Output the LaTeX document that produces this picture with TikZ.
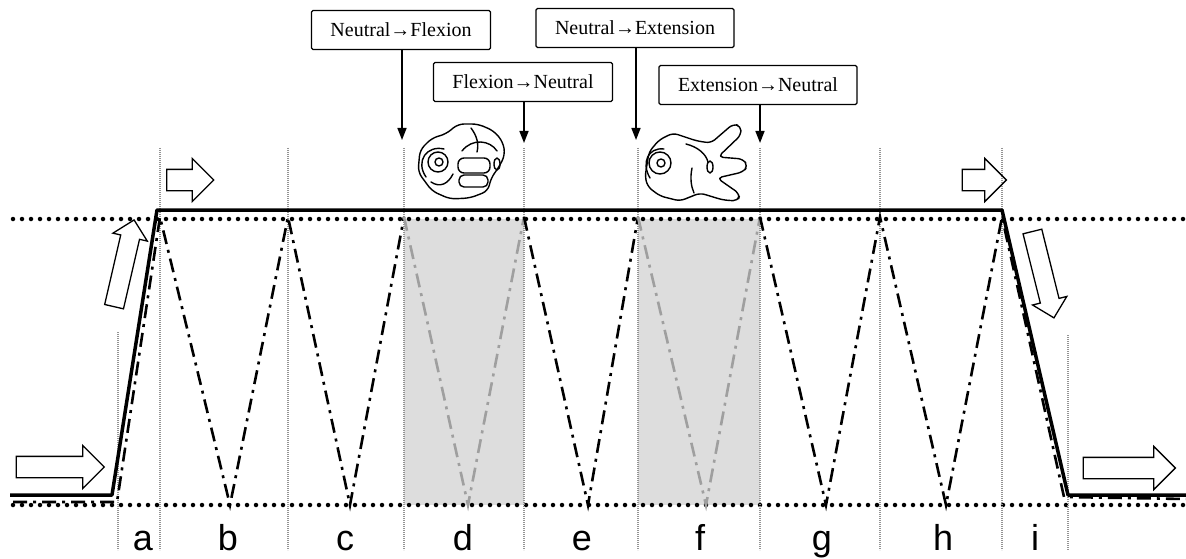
\documentclass[tikz,border=0pt]{standalone}
\usepackage{fontspec}
\setmainfont{Liberation Serif}
\newfontfamily\lettersans{Liberation Sans}
\usepackage{tikz}
\usetikzlibrary{arrows.meta, shapes.arrows}

\begin{document}
\begin{tikzpicture}[
    x=1pt, y=-1pt,
    phase/.style={draw, line width=1.3pt, rounded corners=1.5pt, fill=white,
      inner xsep=19pt, minimum height=39pt, font=\fontsize{20pt}{23pt}\selectfont},
    pointer/.style={line width=1.5pt, -{Triangle[length=12pt,width=9pt]}},
    blockarr/.style={single arrow, draw, line width=1.3pt, inner sep=10pt,
      single arrow head extend=11pt},
    level/.style={line width=4.5pt, line cap=round, dash pattern=on 0pt off 9pt},
    divider/.style={gray!85, line width=1.4pt, dash pattern=on 1.2pt off 0.8pt},
    zig/.style={line width=2.6pt, dash pattern=on 14pt off 6pt on 3pt off 6pt},
    zigshade/.style={zig, gray!75},
    shade/.style={fill=gray!27},
    hand/.style={line width=1.4pt, line join=round, line cap=round},
    letter/.style={anchor=base, font=\lettersans\fontsize{36pt}{40pt}\selectfont},
  ]
  \useasboundingbox (0,0) rectangle (1186,559);

  % shaded flexion / extension windows
  \fill[shade] (404,219) rectangle (524,505);
  \fill[shade] (638,219) rectangle (760,505);

  % upper and lower range limits
  \draw[level] (13,219) -- (1186,219);
  \draw[level] (13,505) -- (1186,505);

  % phase dividers
  \foreach \x in {160,288,404,524,638,760,880,1002}
    \draw[divider] (\x,148) -- (\x,550);
  \draw[divider] (118,332) -- (118,550);
  \draw[divider] (1068,335) -- (1068,550);

  % finger movement trace
  \draw[zig] (13,502) -- (117,502) -- (160,217) -- (230,505) -- (288,217)
    -- (350,505) -- (404,217);
  \draw[zigshade] (404,217) -- (468,505) -- (524,217);
  \draw[zig] (524,217) -- (588,505) -- (638,217);
  \draw[zigshade] (638,217) -- (706,505) -- (760,217);
  \draw[zig] (760,217) -- (826,505) -- (880,217) -- (946,505) -- (1002,217)
    -- (1064,497) -- (1186,499);

  % arm position
  \draw[line width=3.5pt, line join=round]
    (10,495) -- (112,495) -- (157,210) -- (1002,210) -- (1068,495) -- (1186,495);

  % hollow direction arrows
  \node[blockarr, minimum height=88pt] (inL) at (55,467) {};
  \node[blockarr, minimum height=89pt, rotate=77, inner sep=9pt,
    single arrow head extend=8pt] (up) at (123,268) {};
  \node[blockarr, minimum height=47pt] (hold1) at (185,180) {};
  \node[blockarr, minimum height=44pt] (hold2) at (979,180) {};
  \node[blockarr, minimum height=89pt, rotate=-76, inner sep=9pt,
    single arrow head extend=8pt] (down) at (1042,270) {};
  \node[blockarr, minimum height=92pt] (outR) at (1124,468) {};

  % movement labels
  \node[phase] (nf) at (401,30) {Neutral→Flexion};
  \node[phase] (ne) at (635,28) {Neutral→Extension};
  \node[phase] (fn) at (523,82) {Flexion→Neutral};
  \node[phase] (en) at (758,85) {Extension→Neutral};

  \coordinate (t1) at (402,140);
  \coordinate (t2) at (636,140);
  \coordinate (t3) at (524,143);
  \coordinate (t4) at (760,143);
  \draw[pointer] (nf.south -| t1) -- (t1);
  \draw[pointer] (ne.south -| t2) -- (t2);
  \draw[pointer] (fn.south -| t3) -- (t3);
  \draw[pointer] (en.south -| t4) -- (t4);

  % fist
  \begin{scope}[hand]
    \draw[rounded corners=6pt] (418,172) -- (420,150) -- (432,138) -- (446,134)
      -- (458,124) -- (478,124) -- (494,131) -- (503,142) -- (505,155)
      -- (499,167) -- (491,178) -- (488,191) -- (470,198) -- (450,199)
      -- (432,191) -- cycle;
    \draw (438,162) circle (10);
    \draw (439,162) circle (4);
    \draw (426,177) .. controls (415,161) and (427,145) .. (444,149);
    \draw (431,182) .. controls (440,188) and (448,184) .. (453,174);
    \draw[rounded corners=6pt] (458,158) rectangle (490,173);
    \draw[rounded corners=5pt] (459,175) rectangle (488,187);
    \draw (462,151) .. controls (472,138) and (490,140) .. (497,151);
    \draw (471,128) .. controls (477,136) and (479,144) .. (477,152);
    \draw (497,164) ellipse (3 and 6);
  \end{scope}

  % open hand
  \begin{scope}[hand]
    \draw[rounded corners=5pt] (645,177) -- (649,152) -- (659,140) -- (673,133)
      -- (697,141) -- (711,143) -- (733,124) -- (741,126) -- (741,135)
      -- (718,157) -- (743,159) -- (748,166) -- (743,172) -- (717,178)
      -- (740,194) -- (738,201) -- (723,200) -- (700,193) -- (680,201)
      -- (660,196) -- (648,187) -- cycle;
    \draw (660,163) circle (11);
    \draw (661,163) circle (4);
    \draw (650,178) .. controls (641,163) and (648,147) .. (664,149);
    \draw (686,144) .. controls (698,147) and (706,154) .. (708,162);
    \draw (710,167) ellipse (3 and 6);
    \draw (692,168) .. controls (690,178) and (691,186) .. (694,193);
  \end{scope}

  % phase letters
  \foreach \x/\l in {143/a,228/b,345/c,463/d,582/e,700/f,822/g,943/h,1035/i}
    \node[letter] at (\x,550) {\l};
\end{tikzpicture}
\end{document}
